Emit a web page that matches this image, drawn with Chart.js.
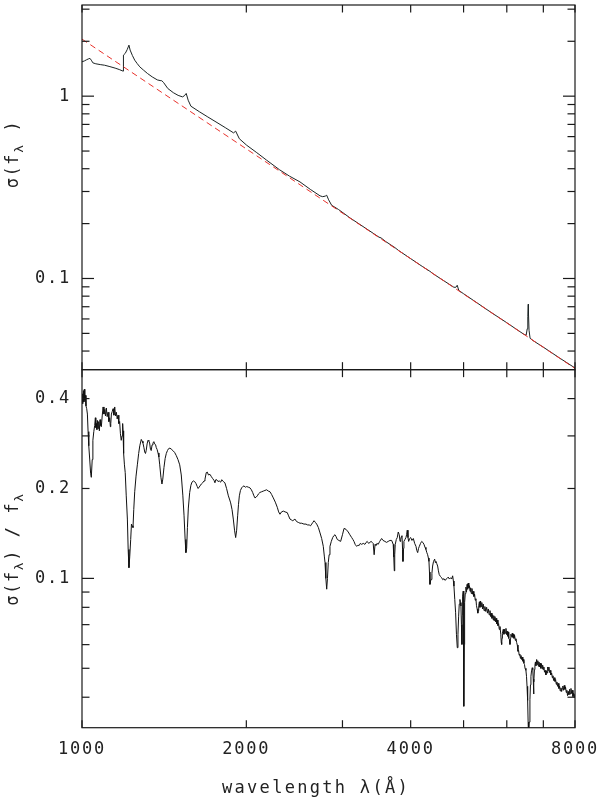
<!DOCTYPE html>
<html><head><meta charset="utf-8">
<script src="https://cdn.jsdelivr.net/npm/chart.js@4.4.0/dist/chart.umd.min.js"></script>
<style>html,body{margin:0;padding:0;background:#fff;}#wrap{position:relative;width:600px;height:802px;}</style>
</head><body><div id="wrap"><canvas id="c" width="600" height="802"></canvas></div>
<script>
// ---------- data ----------
const xTickValues = [1000,2000,3000,4000,5000,6000,7000,8000];
const xTickLabels = [1000,2000,4000,8000];
const topYLabels = [0.1, 1];
const botYLabels = [0.1, 0.2, 0.4];
const topYMinorTicks = [0.04,0.05,0.06,0.07,0.08,0.09,0.2,0.3,0.4,0.5,0.6,0.7,0.8,0.9,2,3];
const topYMajorTicks = [0.1, 1];
const botYMinorTicks = [0.04,0.05,0.06,0.07,0.08,0.09,0.2,0.3,0.4];
const botYMajorTicks = [0.1];

const fitWave = [1000, 8000];
const fitVal  = [2.055, 0.0321];

const sigmaWave = [1000,1010,1020,1027,1034,1040,1047,1060,1080,1100,1125,1150,1170,1189,1190,1192,1200,1210,1219,1225,1237,1249,1262,1276,1296,1318,1345,1374,1390,1400,1410,1436,1470,1500,1528,1540,1552,1565,1583,1640,1700,1760,1830,1895,1912,1942,2003,2090,2179,2300,2400,2508,2620,2729,2760,2790,2807,2830,2866,2950,3100,3300,3500,3530,3600,3745,3800,4000,4200,4338,4400,4600,4800,4840,4868,4900,5000,5300,5600,6000,6200,6430,6510,6540,6556,6568,6575,6590,6620,6705,7000,7500,8000];
const sigmaVal  = [1.543,1.56,1.585,1.60,1.612,1.575,1.523,1.505,1.49,1.478,1.452,1.425,1.40,1.372,1.60,1.68,1.716,1.80,1.905,1.79,1.67,1.576,1.51,1.448,1.39,1.332,1.275,1.228,1.218,1.215,1.19,1.102,1.045,1.01,0.991,1.005,1.035,0.95,0.881,0.822,0.769,0.722,0.672,0.629,0.643,0.584,0.538,0.49,0.4455,0.395,0.364,0.3386,0.308,0.284,0.281,0.283,0.2862,0.27,0.2522,0.239,0.2145,0.1895,0.1685,0.167,0.1595,0.1475,0.1425,0.1285,0.1165,0.1095,0.106,0.0972,0.0895,0.0895,0.0918,0.0860,0.0825,0.0733,0.0655,0.0572,0.0535,0.0497,0.0488,0.0530,0.0620,0.0722,0.0640,0.0520,0.0470,0.0456,0.0420,0.0366,0.0323];

const ratioWave = [1000,1002,1004,1006,1008,1010,1012,1014,1017,1020,1023,1026,1029,1033,1037,1040,1044,1047,1051,1055,1058,1060,1062,1065,1067,1070,1073,1076,1079,1082,1085,1089,1093,1097,1101,1104,1108,1112,1116,1120,1124,1127,1129,1132,1136,1140,1144,1148,1152,1156,1160,1164,1168,1172,1176,1180,1184,1187,1189,1192,1196,1200,1205,1211,1215,1219,1223,1228,1232,1235,1240,1244,1249,1256,1263,1270,1276,1284,1289,1293,1298,1303,1307,1311,1316,1321,1326,1330,1335,1339,1344,1349,1354,1359,1364,1368,1373,1378,1383,1388,1395,1401,1406,1413,1420,1427,1434,1441,1449,1457,1467,1478,1488,1499,1510,1520,1530,1538,1545,1550,1555,1560,1566,1575,1583,1590,1600,1608,1617,1626,1632,1638,1645,1654,1664,1673,1680,1689,1696,1705,1716,1726,1735,1745,1752,1758,1765,1775,1784,1795,1803,1815,1827,1840,1854,1865,1872,1883,1893,1903,1912,1920,1928,1935,1942,1951,1961,1970,1980,1992,2003,2017,2031,2043,2054,2065,2074,2084,2095,2106,2118,2133,2148,2163,2179,2195,2210,2225,2241,2260,2279,2292,2305,2320,2338,2355,2377,2390,2404,2418,2432,2445,2455,2472,2490,2508,2526,2550,2572,2590,2608,2622,2635,2648,2661,2676,2691,2710,2729,2748,2767,2780,2787,2797,2807,2816,2826,2836,2846,2862,2879,2893,2907,2920,2935,2955,2977,3000,3020,3045,3074,3095,3119,3135,3149,3165,3185,3200,3220,3235,3253,3275,3298,3315,3330,3350,3368,3385,3401,3415,3429,3442,3455,3470,3488,3510,3539,3560,3588,3612,3639,3665,3692,3716,3725,3733,3740,3748,3765,3780,3796,3812,3825,3835,3846,3856,3866,3872,3880,3888,3905,3921,3932,3943,3955,3966,3983,4000,4022,4045,4068,4091,4105,4120,4135,4149,4170,4191,4210,4231,4250,4266,4282,4297,4310,4321,4330,4339,4350,4362,4375,4388,4405,4426,4438,4450,4466,4482,4497,4512,4535,4558,4580,4603,4622,4642,4665,4687,4710,4735,4755,4775,4790,4801,4818,4835,4852,4869,4883,4897,4910,4924,4935,4945,4955,4966,4973,4980,4993,5001,5008,5015,5022,5036,5050,5062,5075,5087,5099,5112,5125,5138,5151,5165,5180,5194,5208,5222,5238,5252,5267,5280,5295,5310,5318,5330,5345,5358,5372,5386,5400,5416,5433,5450,5470,5490,5511,5530,5550,5570,5589,5605,5620,5636,5652,5668,5680,5695,5707,5722,5735,5750,5763,5780,5797,5812,5830,5850,5862,5871,5880,5890,5911,5928,5945,5962,5979,5995,6010,6025,6037,6050,6065,6081,6092,6105,6124,6140,6154,6170,6184,6200,6220,6237,6254,6272,6290,6305,6322,6338,6355,6370,6387,6405,6420,6435,6449,6465,6480,6504,6520,6535,6551,6565,6578,6595,6615,6630,6643,6660,6679,6695,6708,6718,6728,6742,6756,6770,6785,6805,6820,6838,6855,6872,6890,6908,6925,6945,6962,6980,6997,7015,7035,7055,7077,7095,7115,7130,7145,7165,7185,7205,7225,7250,7270,7290,7310,7330,7351,7372,7392,7412,7432,7453,7475,7495,7515,7540,7561,7582,7600,7620,7645,7666,7688,7710,7730,7752,7775,7798,7820,7842,7865,7886,7910,7932,7955,7978,8000];
const ratioVal  = [0.395,0.415,0.385,0.425,0.39,0.43,0.395,0.41,0.378,0.37,0.355,0.31,0.278,0.251,0.225,0.218,0.25,0.29,0.31,0.325,0.345,0.32,0.33,0.315,0.338,0.318,0.335,0.312,0.34,0.325,0.322,0.35,0.375,0.355,0.368,0.35,0.372,0.348,0.36,0.335,0.345,0.322,0.33,0.355,0.362,0.37,0.352,0.375,0.35,0.36,0.342,0.352,0.33,0.335,0.305,0.29,0.30,0.33,0.312,0.262,0.24,0.226,0.19,0.158,0.125,0.1086,0.118,0.135,0.152,0.15,0.148,0.17,0.195,0.22,0.24,0.262,0.278,0.292,0.288,0.284,0.275,0.265,0.262,0.268,0.282,0.29,0.288,0.284,0.27,0.268,0.28,0.284,0.287,0.282,0.28,0.274,0.27,0.263,0.255,0.24,0.218,0.207,0.215,0.235,0.252,0.262,0.268,0.272,0.273,0.271,0.268,0.264,0.258,0.25,0.24,0.222,0.19,0.162,0.135,0.122,0.126,0.148,0.172,0.194,0.205,0.21,0.212,0.211,0.208,0.203,0.2,0.2,0.204,0.207,0.209,0.212,0.215,0.226,0.227,0.222,0.223,0.219,0.216,0.213,0.209,0.214,0.214,0.211,0.212,0.21,0.214,0.211,0.209,0.2,0.189,0.183,0.179,0.17,0.158,0.145,0.137,0.145,0.162,0.177,0.189,0.197,0.201,0.203,0.204,0.202,0.203,0.202,0.201,0.198,0.194,0.189,0.186,0.187,0.189,0.192,0.194,0.195,0.196,0.197,0.198,0.196,0.195,0.191,0.186,0.18,0.173,0.167,0.164,0.167,0.168,0.167,0.166,0.162,0.158,0.157,0.156,0.157,0.158,0.155,0.154,0.153,0.153,0.152,0.152,0.151,0.151,0.15,0.152,0.154,0.156,0.154,0.152,0.148,0.142,0.136,0.128,0.118,0.113,0.1,0.092,0.1,0.113,0.12,0.128,0.133,0.137,0.139,0.14,0.138,0.135,0.134,0.133,0.14,0.147,0.146,0.143,0.14,0.137,0.135,0.133,0.13,0.128,0.129,0.129,0.131,0.13,0.131,0.13,0.132,0.133,0.131,0.132,0.133,0.132,0.131,0.120,0.13,0.129,0.131,0.13,0.133,0.136,0.134,0.133,0.132,0.133,0.134,0.134,0.13,0.118,0.106,0.12,0.13,0.135,0.137,0.143,0.14,0.133,0.135,0.138,0.139,0.125,0.114,0.126,0.133,0.135,0.137,0.14,0.145,0.137,0.133,0.136,0.137,0.134,0.136,0.131,0.128,0.124,0.122,0.126,0.128,0.131,0.133,0.132,0.13,0.127,0.125,0.122,0.12,0.117,0.114,0.105,0.0955,0.098,0.0992,0.104,0.11,0.114,0.116,0.113,0.114,0.112,0.11,0.106,0.103,0.1015,0.1005,0.099,0.0998,0.0985,0.0992,0.1,0.101,0.0995,0.1005,0.0995,0.102,0.098,0.0942,0.085,0.0767,0.065,0.0586,0.065,0.0747,0.082,0.085,0.083,0.0808,0.07,0.0601,0.075,0.0872,0.0907,0.06,0.0373,0.06,0.0829,0.089,0.0935,0.090,0.0955,0.092,0.0965,0.093,0.0945,0.0905,0.093,0.089,0.0925,0.0885,0.0905,0.087,0.0885,0.0845,0.0855,0.081,0.079,0.0765,0.078,0.081,0.0835,0.080,0.084,0.0805,0.083,0.079,0.082,0.078,0.0805,0.0775,0.080,0.0765,0.079,0.0755,0.078,0.0745,0.0765,0.0735,0.0755,0.0725,0.075,0.0722,0.0745,0.0715,0.0735,0.0705,0.0725,0.0695,0.0705,0.0675,0.069,0.065,0.061,0.0601,0.063,0.0655,0.0675,0.065,0.0675,0.0655,0.068,0.0648,0.0665,0.064,0.066,0.063,0.0625,0.0601,0.063,0.065,0.0638,0.0655,0.0635,0.065,0.063,0.0645,0.062,0.0628,0.061,0.0598,0.057,0.0575,0.0553,0.0558,0.054,0.0552,0.0535,0.0545,0.0528,0.0535,0.052,0.0515,0.050,0.0492,0.047,0.0435,0.039,0.033,0.029,0.033,0.0393,0.044,0.047,0.049,0.0502,0.0495,0.046,0.041,0.045,0.0495,0.0512,0.0525,0.051,0.0535,0.0515,0.053,0.0508,0.0525,0.0505,0.052,0.050,0.0518,0.0498,0.0512,0.0495,0.0505,0.0485,0.0492,0.0475,0.049,0.0482,0.0505,0.0492,0.0505,0.0484,0.0492,0.0475,0.0482,0.0465,0.0472,0.0455,0.0465,0.0452,0.0458,0.0442,0.045,0.0435,0.0445,0.0428,0.0436,0.042,0.043,0.0418,0.0428,0.0436,0.0422,0.0438,0.0425,0.0432,0.0415,0.0422,0.0405,0.0418,0.0408,0.0425,0.041,0.0428,0.0412,0.0422,0.0402,0.0412,0.0398,0.041];

// ---------- helpers ----------
const FONT = "'DejaVu Sans Mono', monospace";
const TXT = '#222';
const pts = (xs, ys) => xs.map((x, i) => ({x, y: ys[i]}));
const noPad = s => { s.paddingTop = 0; s.paddingBottom = 0; s.paddingLeft = 0; s.paddingRight = 0; };

const spacingPlugin = {
  id: 'spacing',
  beforeDraw(chart) { chart.ctx.letterSpacing = '1.8px'; },
  afterDraw(chart) { chart.ctx.letterSpacing = '0px'; }
};

const framePlugin = {
  id: 'frame',
  afterDatasetsDraw(chart) {
    const ctx = chart.ctx, xs = chart.scales.x;
    const panels = [
      [chart.scales.yTop, topYMajorTicks, topYMinorTicks],
      [chart.scales.yBot, botYMajorTicks, botYMinorTicks]
    ];
    ctx.save();
    ctx.strokeStyle = '#1a1a1a';
    ctx.lineWidth = 1.2;
    const line = (a, b, c, d) => { ctx.beginPath(); ctx.moveTo(a, b); ctx.lineTo(c, d); ctx.stroke(); };
    const l = xs.left, r = xs.right;
    for (const [ys, major, minor] of panels) {
      const t = ys.top, b = ys.bottom;
      ctx.strokeRect(l, t, r - l, b - t);
      for (const v of xTickValues) {
        const px = xs.getPixelForValue(v);
        line(px, t, px, t + 7.5);
        line(px, b, px, b - 7.5);
      }
      for (const v of major) {
        const py = ys.getPixelForValue(v);
        line(l, py, l + 12, py); line(r, py, r - 12, py);
      }
      for (const v of minor) {
        const py = ys.getPixelForValue(v);
        line(l, py, l + 7.5, py); line(r, py, r - 7.5, py);
      }
    }
    ctx.restore();
  }
};

function drawParts(ctx, parts, startX) {
  let x = startX;
  for (const [t, size, dy] of parts) {
    ctx.font = size + 'px ' + FONT;
    ctx.fillText(t, x, dy);
    x += ctx.measureText(t).width;
  }
}
function partsWidth(ctx, parts) {
  let w = 0;
  for (const [t, size] of parts) { ctx.font = size + 'px ' + FONT; w += ctx.measureText(t).width; }
  return w;
}

const titlePlugin = {
  id: 'titles',
  afterDraw(chart) {
    const ctx = chart.ctx;
    ctx.save();
    ctx.fillStyle = TXT;
    ctx.textBaseline = 'alphabetic';
    ctx.textAlign = 'left';
    ctx.letterSpacing = '2.3px';
    const xt = [['wavelength λ(Å)', 17, 0]];
    ctx.save();
    ctx.translate(316, 793);
    drawParts(ctx, xt, -partsWidth(ctx, xt) / 2);
    ctx.restore();
    ctx.letterSpacing = '1.6px';
    const yTitles = [
      [[['σ(f', 17, 0], ['λ', 13, 5], [' )', 17, 0]], 154],
      [[['σ(f', 17, 0], ['λ', 13, 5], [') / f', 17, 0], ['λ', 13, 5]], 549]
    ];
    for (const [parts, cy] of yTitles) {
      ctx.save();
      ctx.translate(18, cy);
      ctx.rotate(-Math.PI / 2);
      drawParts(ctx, parts, -partsWidth(ctx, parts) / 2);
      ctx.restore();
    }
    ctx.letterSpacing = '0px';
    ctx.restore();
  }
};

const yCommon = {
  type: 'logarithmic',
  position: 'left',
  stack: 'panels',
  grid: { display: false, drawTicks: false },
  border: { display: false },
  afterFit: s => { s.width = 82; noPad(s); },
  ticks: { autoSkip: false, padding: 11, color: TXT, font: { family: FONT, size: 17 }, callback: v => String(v) }
};

new Chart(document.getElementById('c'), {
  type: 'line',
  data: {
    datasets: [
      { data: pts(fitWave, fitVal), yAxisID: 'yTop', borderColor: '#e8322c', borderWidth: 1, borderDash: [6, 4], pointRadius: 0, tension: 0 },
      { data: pts(sigmaWave, sigmaVal), yAxisID: 'yTop', borderColor: '#1c2424', borderWidth: 1, pointRadius: 0, tension: 0 },
      { data: pts(ratioWave, ratioVal), yAxisID: 'yBot', borderColor: '#111', borderWidth: 1, pointRadius: 0, tension: 0 }
    ]
  },
  options: {
    responsive: false,
    animation: false,
    devicePixelRatio: 1,
    plugins: { legend: { display: false }, tooltip: { enabled: false }, title: { display: false } },
    layout: { padding: { left: 0, right: 25, top: 5, bottom: 0 } },
    scales: {
      x: {
        type: 'logarithmic', position: 'bottom', min: 1000, max: 8000,
        grid: { display: false, drawTicks: false },
        border: { display: false },
        afterBuildTicks: s => { s.ticks = xTickLabels.map(v => ({ value: v })); },
        afterFit: s => { s.height = 74.3; noPad(s); },
        ticks: { autoSkip: false, maxRotation: 0, minRotation: 0, padding: 12, color: TXT, font: { family: FONT, size: 17 }, callback: v => String(v) }
      },
      yTop: Object.assign({}, yCommon, {
        min: Math.pow(10, -1.5), max: Math.pow(10, 0.5), stackWeight: 364.3, weight: 1,
        afterBuildTicks: s => { s.ticks = topYLabels.map(v => ({ value: v })); }
      }),
      yBot: Object.assign({}, yCommon, {
        min: Math.pow(10, -1.5), max: 0.5, stackWeight: 357.7, weight: 0,
        afterBuildTicks: s => { s.ticks = botYLabels.map(v => ({ value: v })); }
      })
    }
  },
  plugins: [spacingPlugin, framePlugin, titlePlugin]
});
</script>
</body></html>
